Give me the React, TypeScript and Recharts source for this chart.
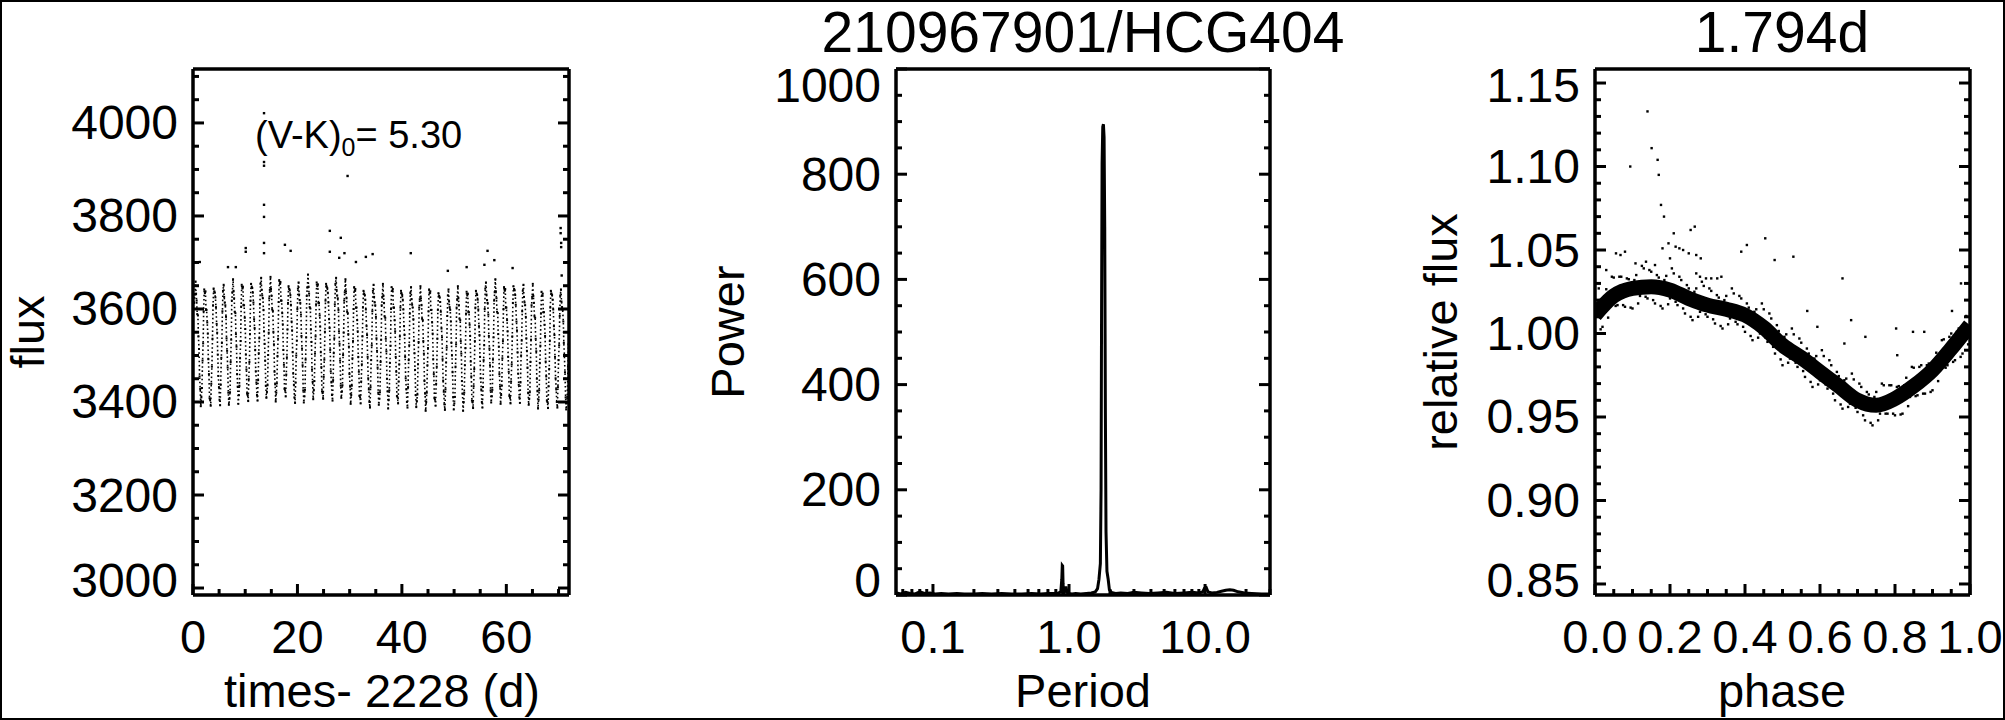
import React from 'react';
import { ScatterChart, Scatter, LineChart, Line, ComposedChart, XAxis, YAxis } from 'recharts';

const FONT = '"Liberation Sans", Arial, Helvetica, sans-serif';

// ---- left panel: light curve (flux vs time) ----
const lcCycleStart = [
  0.2, 1.99, 3.79, 5.58, 7.38, 9.17, 10.96, 12.76, 14.55, 16.35,
  18.14, 19.93, 21.73, 23.52, 25.32, 27.11, 28.9, 30.7, 32.49, 34.29,
  36.08, 37.87, 39.67, 41.46, 43.26, 45.05, 46.84, 48.64, 50.43, 52.23,
  54.02, 55.81, 57.61, 59.4, 61.2, 62.99, 64.78, 66.58, 68.37, 70.17,
];
const lcStepDays = [0.05, 0.16, 0.29, 0.39, 0.5, 0.61, 0.74, 0.84, 0.95, 1.06, 1.18, 1.29, 1.4, 1.51, 1.63, 1.74];
const lcFlux = [
  [3613, 3631, 3659, 3633, 3618, 3589, 3586, 3541, 3514, 3455, 3428, 3391, 3410, 3430, 3489, 3526],
  [3595, 3642, 3634, 3638, 3598, 3598, 3571, 3547, 3492, 3460, 3408, 3405, 3392, 3439, 3476, 3536],
  [3608, 3644, 3638, 3635, 3625, 3604, 3568, 3549, 3502, 3456, 3432, 3405, 3393, 3437, 3495, 3527],
  [3595, 3639, 3652, 3626, 3614, 3608, 3583, 3537, 3510, 3474, 3420, 3394, 3407, 3421, 3486, 3534],
  [3618, 3636, 3664, 3638, 3623, 3594, 3591, 3546, 3519, 3460, 3433, 3396, 3415, 3435, 3494, 3531],
  [3605, 3652, 3644, 3648, 3608, 3608, 3581, 3557, 3502, 3470, 3418, 3415, 3402, 3449, 3486, 3546],
  [3618, 3654, 3648, 3645, 3635, 3614, 3578, 3559, 3512, 3466, 3442, 3415, 3403, 3447, 3505, 3537],
  [3610, 3654, 3667, 3641, 3629, 3623, 3598, 3552, 3525, 3489, 3435, 3409, 3422, 3436, 3501, 3549],
  [3623, 3641, 3669, 3643, 3628, 3599, 3596, 3551, 3524, 3465, 3438, 3401, 3420, 3440, 3499, 3536],
  [3615, 3662, 3654, 3658, 3618, 3618, 3591, 3567, 3512, 3480, 3428, 3425, 3412, 3459, 3496, 3556],
  [3613, 3649, 3643, 3640, 3630, 3609, 3573, 3554, 3507, 3461, 3437, 3410, 3398, 3442, 3500, 3532],
  [3600, 3644, 3657, 3631, 3619, 3613, 3588, 3542, 3515, 3479, 3425, 3399, 3412, 3426, 3491, 3539],
  [3628, 3646, 3674, 3648, 3633, 3604, 3601, 3556, 3529, 3470, 3443, 3406, 3425, 3445, 3504, 3541],
  [3610, 3657, 3649, 3653, 3613, 3613, 3586, 3562, 3507, 3475, 3423, 3420, 3407, 3454, 3491, 3551],
  [3618, 3654, 3648, 3645, 3635, 3614, 3578, 3559, 3512, 3466, 3442, 3415, 3403, 3447, 3505, 3537],
  [3610, 3654, 3667, 3641, 3629, 3623, 3598, 3552, 3525, 3489, 3435, 3409, 3422, 3436, 3501, 3549],
  [3618, 3636, 3664, 3638, 3623, 3594, 3591, 3546, 3519, 3460, 3433, 3396, 3415, 3435, 3494, 3531],
  [3600, 3647, 3639, 3643, 3603, 3603, 3576, 3552, 3497, 3465, 3413, 3410, 3397, 3444, 3481, 3541],
  [3603, 3639, 3633, 3630, 3620, 3599, 3563, 3544, 3497, 3451, 3427, 3400, 3388, 3432, 3490, 3522],
  [3595, 3639, 3652, 3626, 3614, 3608, 3583, 3537, 3510, 3474, 3420, 3394, 3407, 3421, 3486, 3534],
  [3608, 3626, 3654, 3628, 3613, 3584, 3581, 3536, 3509, 3450, 3423, 3386, 3405, 3425, 3484, 3521],
  [3600, 3647, 3639, 3643, 3603, 3603, 3576, 3552, 3497, 3465, 3413, 3410, 3397, 3444, 3481, 3541],
  [3603, 3639, 3633, 3630, 3620, 3599, 3563, 3544, 3497, 3451, 3427, 3400, 3388, 3432, 3490, 3522],
  [3590, 3634, 3647, 3621, 3609, 3603, 3578, 3532, 3505, 3469, 3415, 3389, 3402, 3416, 3481, 3529],
  [3603, 3621, 3649, 3623, 3608, 3579, 3576, 3531, 3504, 3445, 3418, 3381, 3400, 3420, 3479, 3516],
  [3595, 3642, 3634, 3638, 3598, 3598, 3571, 3547, 3492, 3460, 3408, 3405, 3392, 3439, 3476, 3536],
  [3598, 3634, 3628, 3625, 3615, 3594, 3558, 3539, 3492, 3446, 3422, 3395, 3383, 3427, 3485, 3517],
  [3585, 3629, 3642, 3616, 3604, 3598, 3573, 3527, 3500, 3464, 3410, 3384, 3397, 3411, 3476, 3524],
  [3603, 3621, 3649, 3623, 3608, 3579, 3576, 3531, 3504, 3445, 3418, 3381, 3400, 3420, 3479, 3516],
  [3590, 3637, 3629, 3633, 3593, 3593, 3566, 3542, 3487, 3455, 3403, 3400, 3387, 3434, 3471, 3531],
  [3603, 3639, 3633, 3630, 3620, 3599, 3563, 3544, 3497, 3451, 3427, 3400, 3388, 3432, 3490, 3522],
  [3600, 3644, 3657, 3631, 3619, 3613, 3588, 3542, 3515, 3479, 3425, 3399, 3412, 3426, 3491, 3539],
  [3618, 3636, 3664, 3638, 3623, 3594, 3591, 3546, 3519, 3460, 3433, 3396, 3415, 3435, 3494, 3531],
  [3600, 3647, 3639, 3643, 3603, 3603, 3576, 3552, 3497, 3465, 3413, 3410, 3397, 3444, 3481, 3541],
  [3613, 3649, 3643, 3640, 3630, 3609, 3573, 3554, 3507, 3461, 3437, 3410, 3398, 3442, 3500, 3532],
  [3595, 3639, 3652, 3626, 3614, 3608, 3583, 3537, 3510, 3474, 3420, 3394, 3407, 3421, 3486, 3534],
  [3608, 3626, 3654, 3628, 3613, 3584, 3581, 3536, 3509, 3450, 3423, 3386, 3405, 3425, 3484, 3521],
  [3590, 3637, 3629, 3633, 3593, 3593, 3566, 3542, 3487, 3455, 3403, 3400, 3387, 3434, 3471, 3531],
  [3603, 3639, 3633, 3630, 3620, 3599, 3563, 3544, 3497, 3451, 3427, 3400, 3388, 3432, 3490, 3522],
  [3585, 3629, 3642, 3616, 3604, 3598, 3573, 3527, 3500, 3464, 3410, 3384, 3397, 3411, 3476, 3524],
];
const lcOutTime = [1.3, 10.1, 10.1, 6.7, 8.2, 13.6, 13.6, 13.6, 13.6, 13.6, 13.6, 13.6, 17.6, 18.7, 26.2, 26.2, 28.3, 29.6, 28.0, 29.0, 31.2, 33.1, 34.4, 41.7, 48.8, 52.4, 56.4, 57.7, 55.8, 61.2, 70.4, 70.4, 70.5, 70.5, 70.6];
const lcOutFlux = [3701, 3731, 3723, 3690, 3690, 4021, 3916, 3908, 3824, 3798, 3742, 3720, 3738, 3725, 3768, 3723, 3753, 3886, 3710, 3720, 3701, 3712, 3718, 3720, 3682, 3690, 3725, 3705, 3695, 3688, 3774, 3763, 3742, 3733, 3672];

// ---- middle panel: periodogram ----
const pgPeriod = [
  0.054, 0.058, 0.063, 0.068, 0.074, 0.08, 0.087, 0.095, 0.104, 0.115,
  0.13, 0.15, 0.17, 0.2, 0.23, 0.27, 0.32, 0.38, 0.45, 0.53,
  0.62, 0.7, 0.78, 0.84, 0.87, 0.885, 0.892, 0.898, 0.904, 0.91,
  0.92, 0.935, 0.95, 0.96, 0.975, 1.0, 1.05, 1.12, 1.22, 1.34,
  1.46, 1.56, 1.62, 1.66, 1.7, 1.72, 1.735, 1.75, 1.77, 1.79,
  1.81, 1.83, 1.85, 1.87, 1.9, 1.94, 1.98, 2.05, 2.2,
  2.4, 2.7, 3.0, 3.4, 3.9, 4.5, 5.2, 6.0, 7.0, 8.0,
  9.0, 9.6, 9.9, 10.2, 10.5, 11.2, 12.2, 13.2, 14.2, 15.2,
  16.2, 17.5, 19.5, 22, 26, 30,
];
const pgPower = [
  4, 2, 5, 3, 2, 6, 3, 4, 2, 3,
  2, 3, 2, 2, 3, 2, 3, 2, 2, 3,
  2, 3, 3, 4, 6, 30, 56, 55, 22, 6,
  4, 8, 16, 9, 4, 3, 2, 3, 2, 3,
  4, 6, 12, 30, 60, 200, 550, 820, 890, 895,
  870, 700, 350, 120, 45, 30, 10, 5, 3,
  4, 3, 5, 4, 3, 4, 5, 3, 4, 5,
  4, 6, 13, 14, 6, 4, 5, 7, 9, 10,
  9, 6, 4, 3, 2, 2,
];

// ---- right panel: phased light curve ----
const bandPhase = [0, 0.05, 0.1, 0.15, 0.2, 0.25, 0.3, 0.35, 0.4, 0.45, 0.5, 0.55, 0.6, 0.65, 0.7, 0.75, 0.8, 0.85, 0.9, 0.95, 1.0];
const bandFlux = [1.011, 1.0225, 1.027, 1.028, 1.026, 1.021, 1.017, 1.0145, 1.011, 1.0035, 0.993, 0.9855, 0.977, 0.9685, 0.96, 0.957, 0.961, 0.9685, 0.978, 0.991, 1.005];
const scatAPhase = [
  0.005, 0.015, 0.025, 0.035, 0.045, 0.055, 0.065, 0.075, 0.085, 0.095, 0.105, 0.115, 0.125, 0.135, 0.145, 0.155, 0.165, 0.175, 0.185, 0.195,
  0.205, 0.215, 0.225, 0.235, 0.245, 0.255, 0.265, 0.275, 0.285, 0.295, 0.305, 0.315, 0.325, 0.335, 0.345, 0.355, 0.365, 0.375, 0.385, 0.395,
  0.405, 0.415, 0.425, 0.435, 0.445, 0.455, 0.465, 0.475, 0.485, 0.495, 0.505, 0.515, 0.525, 0.535, 0.545, 0.555, 0.565, 0.575, 0.585, 0.595,
  0.605, 0.615, 0.625, 0.635, 0.645, 0.655, 0.665, 0.675, 0.685, 0.695, 0.705, 0.715, 0.725, 0.735, 0.745, 0.755, 0.765, 0.775, 0.785, 0.795,
  0.805, 0.815, 0.825, 0.835, 0.845, 0.855, 0.865, 0.875, 0.885, 0.895, 0.905, 0.915, 0.925, 0.935, 0.945, 0.955, 0.965, 0.975, 0.985, 0.995,
];
const scatAFlux = [
  1.018, 1.0025, 1.021, 1.0095, 1.034, 1.0165, 1.034, 1.017, 1.033, 1.0155, 1.032, 1.018, 1.0405, 1.022, 1.038, 1.02, 1.035, 1.0165, 1.032, 1.0175,
  1.039, 1.019, 1.034, 1.015, 1.029, 1.01, 1.025, 1.01, 1.031, 1.0115, 1.027, 1.0085, 1.023, 1.0045, 1.02, 1.0055, 1.027, 1.007, 1.0225, 1.004,
  1.018, 0.9985, 1.013, 0.9975, 1.018, 0.9975, 1.012, 0.992, 1.005, 0.9845, 0.998, 0.9825, 1.003, 0.9825, 0.997, 0.9775, 0.991, 0.971, 0.985, 0.9695,
  0.99, 0.9695, 0.984, 0.964, 0.977, 0.9575, 0.972, 0.956, 0.976, 0.9555, 0.97, 0.951, 0.965, 0.9465, 0.962, 0.948, 0.97, 0.952, 0.969, 0.952,
  0.968, 0.9515, 0.969, 0.9565, 0.98, 0.9625, 0.98, 0.964, 0.981, 0.965, 0.983, 0.9715, 0.996, 0.9795, 0.998, 0.983, 1.001, 0.986, 1.005, 0.9935,
];
const scatBPhase = [
  0, 0.01, 0.02, 0.03, 0.04, 0.05, 0.06, 0.07, 0.08, 0.09, 0.1, 0.11, 0.12, 0.13, 0.14, 0.15, 0.16, 0.17, 0.18, 0.19,
  0.2, 0.21, 0.22, 0.23, 0.24, 0.25, 0.26, 0.27, 0.28, 0.29, 0.3, 0.31, 0.32, 0.33, 0.34, 0.35, 0.36, 0.37, 0.38, 0.39,
  0.4, 0.41, 0.42, 0.43, 0.44, 0.45, 0.46, 0.47, 0.48, 0.49, 0.5, 0.51, 0.52, 0.53, 0.54, 0.55, 0.56, 0.57, 0.58, 0.59,
  0.6, 0.61, 0.62, 0.63, 0.64, 0.65, 0.66, 0.67, 0.68, 0.69, 0.7, 0.71, 0.72, 0.73, 0.74, 0.75, 0.76, 0.77, 0.78, 0.79,
  0.8, 0.81, 0.82, 0.83, 0.84, 0.85, 0.86, 0.87, 0.88, 0.89, 0.9, 0.91, 0.92, 0.93, 0.94, 0.95, 0.96, 0.97, 0.98, 0.99, 1.0,
];
const scatBFlux = [
  1.001, 1.0195, 1.004, 1.0265, 1.016, 1.0335, 1.017, 1.034, 1.016, 1.0325, 1.015, 1.035, 1.0225, 1.039, 1.021, 1.037, 1.018, 1.0335, 1.015, 1.0345,
  1.021, 1.036, 1.017, 1.032, 1.012, 1.027, 1.008, 1.027, 1.013, 1.0285, 1.01, 1.0255, 1.006, 1.0215, 1.003, 1.0225, 1.009, 1.024, 1.0055, 1.021,
  1.001, 1.0155, 0.996, 1.0145, 1.0, 1.0145, 0.995, 1.009, 0.988, 1.0015, 0.981, 0.9995, 0.985, 0.9995, 0.98, 0.9945, 0.974, 0.988, 0.968, 0.9865,
  0.972, 0.9865, 0.967, 0.981, 0.96, 0.9745, 0.955, 0.973, 0.958, 0.9725, 0.953, 0.968, 0.948, 0.9635, 0.945, 0.965, 0.952, 0.969, 0.952, 0.969,
  0.951, 0.9685, 0.952, 0.9735, 0.962, 0.9795, 0.963, 0.981, 0.964, 0.982, 0.966, 0.9885, 0.978, 0.9965, 0.981, 1.0, 0.984, 1.003, 0.988, 1.0105, 1.0,
];
const outPhase = [0.14, 0.094, 0.151, 0.167, 0.17, 0.176, 0.184, 0.21, 0.18, 0.196, 0.215, 0.225, 0.235, 0.25, 0.255, 0.266, 0.056, 0.068, 0.08, 0.27, 0.282, 0.27, 0.28, 0.296, 0.31, 0.326, 0.337, 0.39, 0.405, 0.454, 0.479, 0.529, 0.566, 0.593, 0.66, 0.665, 0.683, 0.721, 0.803, 0.806, 0.848, 0.878, 0.976, 0.952, 0.01, 0.03, 0.108, 0.136, 0.2, 0.16];
const outFlux = [1.133, 1.1, 1.111, 1.104, 1.095, 1.077, 1.07, 1.06, 1.051, 1.054, 1.052, 1.051, 1.05, 1.048, 1.062, 1.064, 1.048, 1.047, 1.049, 1.047, 1.045, 1.036, 1.034, 1.033, 1.033, 1.033, 1.034, 1.049, 1.053, 1.057, 1.044, 1.046, 1.0135, 1.004, 1.033, 0.994, 1.008, 0.998, 1.003, 0.987, 1.001, 1.001, 1.03, 1.0135, 1.027, 1.038, 1.042, 1.043, 1.045, 1.041];

// tick values
const lcXMajor = [0, 20, 40, 60];
const lcYMajor = [3000, 3200, 3400, 3600, 3800, 4000];
const pgXMajor = [0.1, 1, 10];
const pgXMinor = [0.06, 0.07, 0.08, 0.09, 0.2, 0.3, 0.4, 0.5, 0.6, 0.7, 0.8, 0.9, 2, 3, 4, 5, 6, 7, 8, 9, 20, 30];
const pgYMajor = [0, 200, 400, 600, 800, 1000];
const phXMajor = [0, 0.2, 0.4, 0.6, 0.8, 1.0];
const phYMajor = [0.85, 0.9, 0.95, 1.0, 1.05, 1.1, 1.15];

const steps = (a: number, b: number, s: number) => {
  const out: number[] = [];
  for (let i = 0; a + i * s <= b + 1e-9; i++) out.push(+(a + i * s).toFixed(4));
  return out;
};

const lcData = lcCycleStart.flatMap((t0, i) => lcStepDays.map((d, j) => ({ x: t0 + d, y: lcFlux[i][j] })));
const lcOutData = lcOutTime.map((t, i) => ({ x: t, y: lcOutFlux[i] }));
const pgData = pgPeriod.map((p, i) => ({ x: p, y: pgPower[i] }));
const bandData = bandPhase.map((p, i) => ({ x: p, y: bandFlux[i] }));
const scatData = [
  ...scatAPhase.map((p, i) => ({ x: p, y: scatAFlux[i] })),
  ...scatBPhase.map((p, i) => ({ x: p, y: scatBFlux[i] })),
];
const outData = outPhase.map((p, i) => ({ x: p, y: outFlux[i] }));

type Side = 'bottom' | 'top' | 'left' | 'right';

// IDL-style inward ticks; y labels are kept inside the box height
const tickMark = (side: Side, majors: number[], fmt: ((v: number) => string) | null) => (props: any) => {
  const { x, y, payload } = props;
  const v = payload.value;
  const major = majors.some((m) => Math.abs(m - v) < 1e-6 * Math.max(1, Math.abs(m)));
  const len = major ? 11 : 6;
  let x2 = x;
  let y2 = y;
  if (side === 'bottom') y2 = y - len;
  if (side === 'top') y2 = y + len;
  if (side === 'left') x2 = x + len;
  if (side === 'right') x2 = x - len;
  const ly = Math.min(Math.max(y, 85), 580);
  return (
    <g>
      <line x1={x} y1={y} x2={x2} y2={y2} stroke="#000" strokeWidth={3} />
      {major && fmt && side === 'bottom' && (
        <text x={x} y={y + 41} textAnchor="middle" dominantBaseline="central" fontFamily={FONT} fontSize={47} fill="#000">
          {fmt(v)}
        </text>
      )}
      {major && fmt && side === 'left' && (
        <text x={x - 15} y={ly} textAnchor="end" dominantBaseline="central" fontFamily={FONT} fontSize={48} fill="#000">
          {fmt(v)}
        </text>
      )}
    </g>
  );
};

const axisLine = { stroke: '#000', strokeWidth: 3.5 };

function boxAxes(
  xDomain: number[], xTicks: number[], xMajors: number[], xFmt: (v: number) => string,
  yDomain: number[], yTicks: number[], yMajors: number[], yFmt: (v: number) => string,
  xScale: 'linear' | 'log' = 'linear',
) {
  const common = { type: 'number' as const, allowDataOverflow: true, interval: 0 as const, tickLine: false, tickSize: 0, tickMargin: 0, axisLine };
  return [
    <XAxis key="xb" xAxisId="b" dataKey="x" orientation="bottom" scale={xScale} domain={xDomain} ticks={xTicks} height={60} tick={tickMark('bottom', xMajors, xFmt)} {...common} />,
    <XAxis key="xt" xAxisId="t" orientation="top" scale={xScale} domain={xDomain} ticks={xTicks} height={10} tick={tickMark('top', xMajors, null)} {...common} />,
    <YAxis key="yl" yAxisId="l" dataKey="y" orientation="left" domain={yDomain} ticks={yTicks} width={150} tick={tickMark('left', yMajors, yFmt)} {...common} />,
    <YAxis key="yr" yAxisId="r" orientation="right" domain={yDomain} ticks={yTicks} width={10} tick={tickMark('right', yMajors, null)} {...common} />,
  ];
}

const Dot = (p: any) => (p.cx == null ? <g /> : <rect x={p.cx - 1.2} y={p.cy - 1.2} width={2.4} height={2.4} fill="#000" />);
const SmallDot = (p: any) => (p.cx == null ? <g /> : <rect x={p.cx - 1} y={p.cy - 1} width={2} height={2} fill="#000" />);

const label = { fontFamily: FONT, fill: '#000', textAnchor: 'middle' as const, dominantBaseline: 'central' as const };

export default function App() {
  return (
    <div style={{ position: 'absolute', left: 0, top: 0, width: 2005, height: 720, background: '#fff', overflow: 'hidden' }}>
      <div style={{ position: 'absolute', left: 0, top: 0 }}>
        <ScatterChart width={640} height={720} margin={{ top: 59, right: 61, bottom: 65, left: 43 }}>
          {boxAxes([0, 72], steps(0, 70, 5), lcXMajor, (v) => String(v), [2985, 4116], steps(3000, 4100, 50), lcYMajor, (v) => String(v))}
          <Scatter
            data={lcData}
            xAxisId="b"
            yAxisId="l"
            shape={SmallDot}
            line={{ stroke: '#000', strokeWidth: 1.6, strokeDasharray: '1.6 2.6' }}
            lineType="joint"
            isAnimationActive={false}
          />
          <Scatter data={lcOutData} xAxisId="b" yAxisId="l" shape={Dot} isAnimationActive={false} />
        </ScatterChart>
      </div>
      <div style={{ position: 'absolute', left: 700, top: 0 }}>
        <LineChart width={640} height={720} data={pgData} margin={{ top: 59, right: 60, bottom: 65, left: 46 }}>
          {boxAxes([0.0535, 30], [...pgXMinor, ...pgXMajor].sort((a, b) => a - b), pgXMajor, (v) => v.toFixed(1), [0, 1000], steps(0, 1000, 50), pgYMajor, (v) => String(v), 'log')}
          <Line dataKey="y" xAxisId="b" yAxisId="l" type="linear" stroke="#000" strokeWidth={3} dot={false} isAnimationActive={false} />
        </LineChart>
      </div>
      <div style={{ position: 'absolute', left: 1400, top: 0 }}>
        <ComposedChart width={605} height={720} margin={{ top: 59, right: 25, bottom: 65, left: 45 }}>
          {boxAxes([0, 1], steps(0, 1, 0.05), phXMajor, (v) => v.toFixed(1), [0.8434, 1.1584], steps(0.85, 1.15, 0.01), phYMajor, (v) => v.toFixed(2))}
          <Line data={bandData} dataKey="y" xAxisId="b" yAxisId="l" type="monotone" stroke="#000" strokeWidth={15} dot={false} isAnimationActive={false} />
          <Scatter data={scatData} xAxisId="b" yAxisId="l" shape={Dot} isAnimationActive={false} />
          <Scatter data={outData} xAxisId="b" yAxisId="l" shape={Dot} isAnimationActive={false} />
        </ComposedChart>
      </div>

      <svg width={2005} height={720} style={{ position: 'absolute', left: 0, top: 0, pointerEvents: 'none' }}>
        <text {...label} x={27} y={332} fontSize={47} transform="rotate(-90 27 332)">flux</text>
        <text {...label} x={382} y={690} fontSize={47}>times- 2228 (d)</text>
        <text x={255} y={148} fontFamily={FONT} fontSize={38} fill="#000">
          (V-K)<tspan fontSize={25} dy={8}>0</tspan><tspan dy={-8}>= 5.30</tspan>
        </text>

        <text x={1083} y={52} fontFamily={FONT} fontSize={57} fill="#000" textAnchor="middle">210967901/HCG404</text>
        <text {...label} x={727} y={332} fontSize={47} transform="rotate(-90 727 332)">Power</text>
        <text {...label} x={1083} y={690} fontSize={47}>Period</text>

        <text x={1782} y={52} fontFamily={FONT} fontSize={57} fill="#000" textAnchor="middle">1.794d</text>
        <text {...label} x={1440} y={332} fontSize={47} transform="rotate(-90 1440 332)">relative flux</text>
        <text {...label} x={1782} y={690} fontSize={47}>phase</text>

        <rect x={1} y={1} width={2003} height={718} fill="none" stroke="#000" strokeWidth={2} />
      </svg>
    </div>
  );
}
